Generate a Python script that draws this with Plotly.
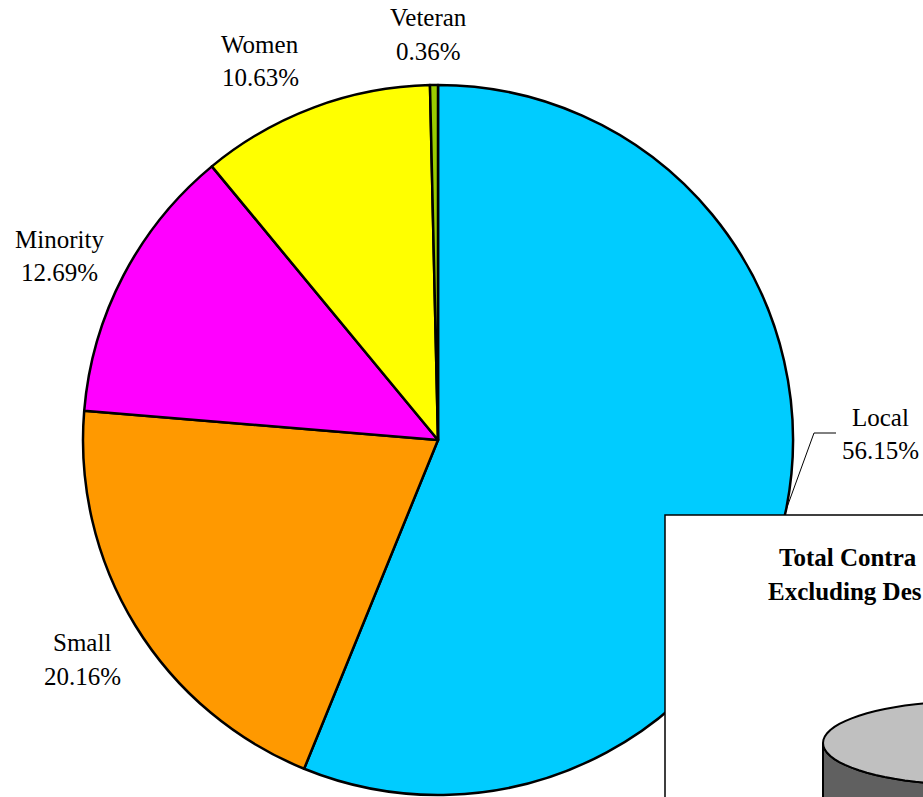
import math
import plotly.graph_objects as go

W, H = 923, 797

categories = ["Local", "Small", "Minority", "Women", "Veteran"]
shares = [56.15, 20.16, 12.69, 10.63, 0.36]
colors = ["#00CCFF", "#FF9900", "#FF00FF", "#FFFF00", "#99CC00"]

inset_title = ["Total Contra", "Excluding Des"]


def px(x):
    return x / W


def py(y):
    return 1 - y / H


fig = go.Figure(go.Pie(
    labels=categories,
    values=shares,
    sort=False,
    direction="clockwise",
    rotation=0,
    textinfo="none",
    hoverinfo="label+percent",
    marker=dict(colors=colors, line=dict(color="black", width=2.5)),
    domain=dict(x=[px(83), px(793)], y=[py(795), py(85)]),
    showlegend=False,
))

font = dict(family="Liberation Serif, Times New Roman, serif", size=25, color="black")

# label positions (pixel centers): name line, value line
label_pos = {
    "Veteran": (428, 18, 52),
    "Women": (260, 44, 77),
    "Minority": (60, 239, 272),
    "Small": (82, 642, 676),
    "Local": (880, 417, 451),
}

annotations = []
for name, val in zip(categories, shares):
    x, y1, y2 = label_pos[name]
    annotations.append(dict(x=px(x), y=py(y1), xref="paper", yref="paper",
                            text=name, showarrow=False, font=font,
                            xanchor="center", yanchor="middle"))
    annotations.append(dict(x=px(x), y=py(y2), xref="paper", yref="paper",
                            text=f"{val:.2f}%", showarrow=False, font=font,
                            xanchor="center", yanchor="middle"))

bold_font = dict(family="Liberation Serif, Times New Roman, serif", size=25, color="black")
annotations.append(dict(x=px(777), y=py(557), xref="paper", yref="paper",
                        text="<b>" + inset_title[0] + "</b>", showarrow=False,
                        font=bold_font, xanchor="left", yanchor="middle"))
annotations.append(dict(x=px(766), y=py(591), xref="paper", yref="paper",
                        text="<b>" + inset_title[1] + "</b>", showarrow=False,
                        font=bold_font, xanchor="left", yanchor="middle"))


def ellipse_path(cx, cy, rx, ry, n=80):
    pts = []
    for i in range(n + 1):
        t = 2 * math.pi * i / n
        pts.append((px(cx + rx * math.cos(t)), py(cy + ry * math.sin(t))))
    return "M " + " L ".join(f"{a},{b}" for a, b in pts) + " Z"


cx, cy, rx, ry, depth = 973, 743, 150, 42, 70
n = 40
upper = [(cx + rx * math.cos(math.pi * i / n), cy + ry * math.sin(math.pi * i / n)) for i in range(n + 1)]
lower = [(cx + rx * math.cos(math.pi * i / n), cy + depth + ry * math.sin(math.pi * i / n)) for i in range(n + 1)]
pts = lower + list(reversed(upper))
side_path = "M " + " L ".join(f"{px(a)},{py(b)}" for a, b in pts) + " Z"

shapes = [
    # leader line for Local
    dict(type="path", xref="paper", yref="paper",
         path=f"M {px(786)},{py(510)} L {px(814)},{py(433)} L {px(836)},{py(433)}",
         line=dict(color="black", width=1), layer="above"),
    # inset box
    dict(type="rect", xref="paper", yref="paper",
         x0=px(665), x1=px(940), y0=py(820), y1=py(515),
         fillcolor="white", line=dict(color="black", width=1.5), layer="above"),
    # cylinder side
    dict(type="path", xref="paper", yref="paper", path=side_path,
         fillcolor="#606060", line=dict(color="black", width=2), layer="above"),
    # cylinder top
    dict(type="path", xref="paper", yref="paper",
         path=ellipse_path(cx, cy, rx, ry),
         fillcolor="#C0C0C0", line=dict(color="black", width=2), layer="above"),
]

fig.update_layout(
    width=W, height=H,
    margin=dict(l=0, r=0, t=0, b=0),
    paper_bgcolor="white",
    plot_bgcolor="white",
    annotations=annotations,
    shapes=shapes,
)

fig.write_html("out.html", config={"displayModeBar": False},
               post_script="document.body.style.margin='0';")
